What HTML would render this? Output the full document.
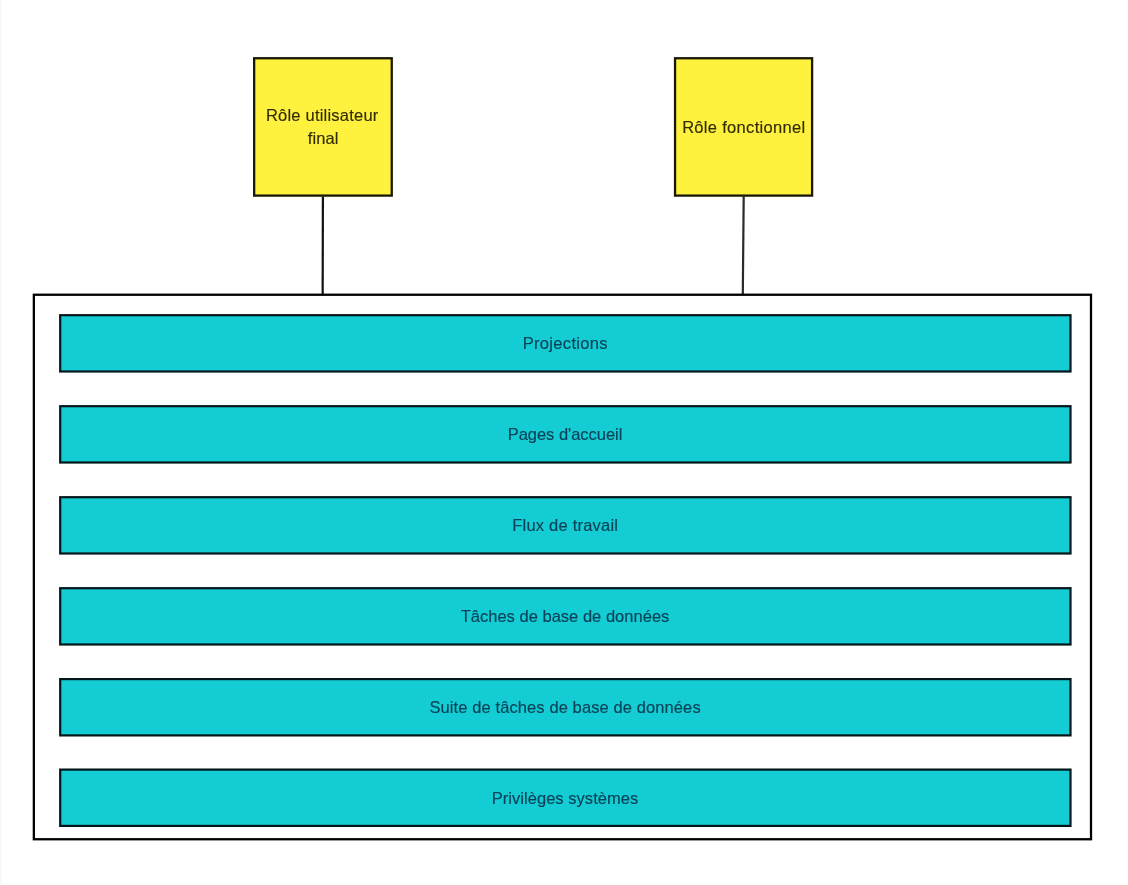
<!DOCTYPE html>
<html lang="fr">
<head>
<meta charset="utf-8">
<title>Rôles et privilèges</title>
<style>
  html, body { margin: 0; padding: 0; background: #ffffff; }
  body { width: 1128px; height: 885px; position: relative; overflow: hidden;
         font-family: "Liberation Sans", "DejaVu Sans", sans-serif; }
  .edge { position: absolute; left: 0; top: 0; width: 2px; height: 885px;
          background: linear-gradient(to right, #f7f7f7 0, #f7f7f7 1px, #fcfcfc 1px, #fcfcfc 2px); }
  svg.shapes { position: absolute; left: 0; top: 0; }
  .label { position: absolute; white-space: nowrap; text-align: center;
           font-size: 16.5px; line-height: 23px; color: #1a1a1a;
           will-change: transform; -webkit-font-smoothing: antialiased;
           -webkit-text-stroke: 0.15px currentColor; }
  .bar { left: 59px; width: 1012px; color: #0a4257; }
  .note { color: #332c00; }
</style>
</head>
<body>
<div class="edge"></div>
<svg class="shapes" width="1128" height="885" viewBox="0 0 1128 885">
  <!-- connectors -->
  <line x1="322.9" y1="196.6" x2="322.65" y2="295" stroke="#111111" stroke-width="2.2"/>
  <line x1="743.7" y1="196.6" x2="742.8" y2="295" stroke="#2a2a2a" stroke-width="2.2"/>
  <!-- container -->
  <rect x="33.85" y="294.75" width="1057.15" height="544.5" fill="#ffffff" stroke="#000000" stroke-width="2.3"/>
  <!-- role notes -->
  <rect x="254.15" y="58.25" width="137.6" height="137.35" fill="#fef23f" stroke="#1a1805" stroke-width="2.3"/>
  <rect x="675.05" y="58.25" width="137.05" height="137.35" fill="#fef23f" stroke="#1a1805" stroke-width="2.3"/>
  <!-- privilege bars -->
  <g fill="#14cdd4" stroke="#03161a" stroke-width="2.2">
    <rect x="60.2" y="315.2" width="1010.3" height="56.3"/>
    <rect x="60.2" y="406.2" width="1010.3" height="56.3"/>
    <rect x="60.2" y="497.2" width="1010.3" height="56.3"/>
    <rect x="60.2" y="588.2" width="1010.3" height="56.3"/>
    <rect x="60.2" y="679.1" width="1010.3" height="56.3"/>
    <rect x="60.2" y="769.6" width="1010.3" height="56.3"/>
  </g>
</svg>

<div class="label note" style="left:251.7px; width:140px; top:104px; letter-spacing:0.22px; padding-left:0.22px;">Rôle utilisateur</div>
<div class="label note" style="left:253px; width:140px; top:127px; letter-spacing:0.1px; padding-left:0.1px;">final</div>
<div class="label note" style="left:674px; width:139px; top:116px; letter-spacing:0.31px; padding-left:0.31px;">Rôle fonctionnel</div>

<div class="label bar" style="top:332px; letter-spacing:0.33px; padding-left:0.33px;">Projections</div>
<div class="label bar" style="top:423px; letter-spacing:-0.03px;">Pages d'accueil</div>
<div class="label bar" style="top:514px; letter-spacing:0.22px; padding-left:0.22px;">Flux de travail</div>
<div class="label bar" style="top:605px; letter-spacing:0.02px;">Tâches de base de données</div>
<div class="label bar" style="top:696px; letter-spacing:0.1px; padding-left:0.1px;">Suite de tâches de base de données</div>
<div class="label bar" style="top:787px; letter-spacing:0.04px;">Privilèges systèmes</div>
</body>
</html>
